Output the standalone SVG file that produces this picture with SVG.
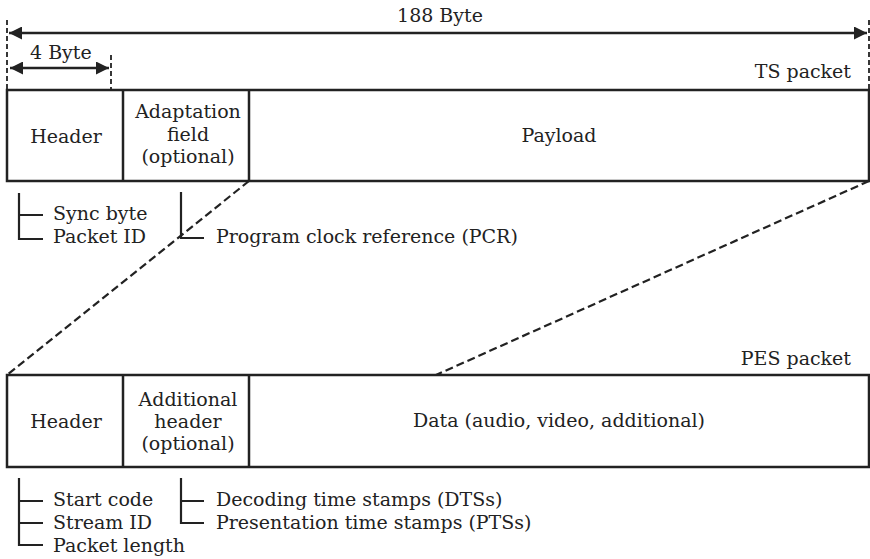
<svg xmlns="http://www.w3.org/2000/svg" width="870" height="559" viewBox="0 0 870 559">
  <defs>
    <marker id="arrow" viewBox="0 0 10 10" refX="10" refY="5" markerWidth="20" markerHeight="13" markerUnits="userSpaceOnUse" orient="auto-start-reverse">
      <path d="M0,0 L10,5 L0,10 Z" fill="#222"/>
    </marker>
    <style>
      text { font-family: "DejaVu Serif", "Liberation Serif", serif; font-size: 19px; fill: #222; }
      .mid { text-anchor: middle; }
      .end { text-anchor: end; }
      .box { fill: #fff; stroke: #222; stroke-width: 2.5; }
      .sep { stroke: #222; stroke-width: 2.5; }
      .dash { stroke: #222; stroke-width: 2.2; stroke-dasharray: 8 4; fill: none; }
      .vdash { stroke: #222; stroke-width: 1.8; stroke-dasharray: 5 3; fill: none; }
      .tick { stroke: #222; stroke-width: 2.2; fill: none; }
      .dim { stroke: #222; stroke-width: 2.5; fill: none; }
    </style>
  </defs>

  <!-- dimension extension lines -->
  <g id="dimensions">
    <line class="vdash" x1="7" y1="20" x2="7" y2="90"/>
    <line class="vdash" x1="111" y1="55" x2="111" y2="90"/>
    <line class="vdash" x1="869" y1="20" x2="869" y2="90"/>
    <line class="dim" x1="9" y1="33" x2="867" y2="33" marker-start="url(#arrow)" marker-end="url(#arrow)"/>
    <text class="mid" x="440" y="22">188 Byte</text>
    <line class="dim" x1="10" y1="68" x2="109" y2="68" marker-start="url(#arrow)" marker-end="url(#arrow)"/>
    <text x="30" y="59">4 Byte</text>
  </g>

  <!-- TS packet -->
  <g id="ts-packet">
    <text class="end" x="851" y="78">TS packet</text>
    <rect class="box" x="7" y="90" width="862" height="91"/>
    <line class="sep" x1="123" y1="90" x2="123" y2="181"/>
    <line class="sep" x1="249" y1="90" x2="249" y2="181"/>
  </g>
  <g id="ts-header">
    <text class="mid" x="66" y="143">Header</text>
  </g>
  <g id="ts-adaptation">
    <text class="mid" x="188" y="118">Adaptation</text>
    <text class="mid" x="188" y="141">field</text>
    <text class="mid" x="188" y="163">(optional)</text>
  </g>
  <g id="ts-payload">
    <text class="mid" x="559" y="142">Payload</text>
  </g>

  <!-- TS header fields -->
  <g id="ts-header-fields">
    <path class="tick" d="M19,193 V239 H43 M19,215 H43"/>
    <text x="53" y="220">Sync byte</text>
    <text x="53" y="243">Packet ID</text>
  </g>
  <g id="ts-adaptation-fields">
    <path class="tick" d="M181,192 V238 H204"/>
    <text x="216" y="243">Program clock reference (PCR)</text>
  </g>

  <!-- payload expansion -->
  <g id="connectors">
    <line class="dash" x1="249" y1="181" x2="7" y2="375"/>
    <line class="dash" x1="869" y1="181" x2="436" y2="375"/>
  </g>

  <!-- PES packet -->
  <g id="pes-packet">
    <text class="end" x="851" y="365">PES packet</text>
    <rect class="box" x="7" y="375" width="862" height="92"/>
    <line class="sep" x1="123" y1="375" x2="123" y2="467"/>
    <line class="sep" x1="249" y1="375" x2="249" y2="467"/>
  </g>
  <g id="pes-header">
    <text class="mid" x="66" y="428">Header</text>
  </g>
  <g id="pes-additional">
    <text class="mid" x="188" y="406">Additional</text>
    <text class="mid" x="188" y="428">header</text>
    <text class="mid" x="188" y="450">(optional)</text>
  </g>
  <g id="pes-data">
    <text class="mid" x="559" y="427">Data (audio, video, additional)</text>
  </g>

  <!-- PES header fields -->
  <g id="pes-header-fields">
    <path class="tick" d="M19,478 V545 H43 M19,501 H43 M19,523 H43"/>
    <text x="53" y="506">Start code</text>
    <text x="53" y="529">Stream ID</text>
    <text x="53" y="552">Packet length</text>
  </g>
  <g id="pes-additional-fields">
    <path class="tick" d="M181,478 V523 H204 M181,501 H204"/>
    <text x="216" y="506">Decoding time stamps (DTSs)</text>
    <text x="216" y="529">Presentation time stamps (PTSs)</text>
  </g>
</svg>
